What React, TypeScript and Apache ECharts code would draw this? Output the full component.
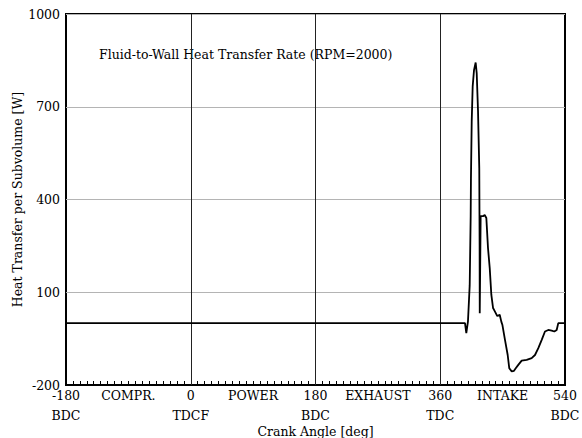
import React, { useEffect, useRef } from "react";
import * as echarts from "echarts";

// Crank angle [deg] and fluid-to-wall heat transfer per subvolume [W]
const crankAngle = [
  -180, 395.7, 397.6, 400.0, 402.5, 403.9, 404.3, 405.4, 406.8, 408.7, 411.1,
  412.6, 414.5, 416.3, 416.8, 417.0, 418.3, 421.7, 424.1, 426.5, 428.9, 431.4,
  433.7, 436.2, 438.6, 442.3, 445.8, 448.1, 449.6, 453.4, 457.3, 459.6, 463.1,
  466.4, 468.9, 472.6, 477.5, 484.7, 491.9, 496.7, 501.5, 506.4, 511.1, 515.9,
  520.8, 524.6, 528.0, 530.3, 540,
];
const heatRate = [
  0, 0, -32, 6, 123, 346, 469, 653, 766, 818, 843,
  809, 686, 501, 250, 32, 346, 346, 350, 340, 243, 178,
  92, 49, 39, 23, 27, 5, -5, -54, -103, -146, -156,
  -154, -146, -135, -121, -119, -113, -103, -81, -54, -27, -22,
  -24, -27, -22, 0, 0,
];

// Tick labels along the crank-angle axis (every 90 deg)
const angleTicks = [-180, -90, 0, 90, 180, 270, 360, 450, 540];
const angleTickLabels = [
  "-180\nBDC", "COMPR.", "0\nTDCF", "POWER", "180\nBDC",
  "EXHAUST", "360\nTDC", "INTAKE", "540\nBDC",
];
// Dead-centre reference lines
const deadCentres = [0, 180, 360];

const FONT = "DejaVu Serif";
const FS = 12.5;

export default function App() {
  const ref = useRef<HTMLDivElement>(null);

  useEffect(() => {
    document.body.style.margin = "0";
    const chart = echarts.init(ref.current!, undefined, { renderer: "svg" });
    const points = crankAngle.map((a, i) => [a, heatRate[i]]);

    chart.setOption({
      animation: false,
      backgroundColor: "#ffffff",
      textStyle: { fontFamily: FONT, color: "#000" },
      grid: {
        left: 66,
        right: 17,
        top: 14,
        bottom: 53,
        show: true,
        backgroundColor: "transparent",
        borderColor: "#000",
        borderWidth: 2,
        outerBoundsMode: "none",
      },
      graphic: [
        {
          type: "text",
          left: 99,
          top: 48,
          style: {
            text: "Fluid-to-Wall Heat Transfer Rate (RPM=2000)",
            font: `${FS}px "${FONT}"`,
            fill: "#000",
          },
        },
      ],
      xAxis: {
        type: "value",
        min: -180,
        max: 540,
        interval: 90,
        name: "Crank Angle [deg]",
        nameLocation: "middle",
        nameGap: 40,
        nameMoveOverlap: false,
        nameTextStyle: { fontFamily: FONT, fontSize: FS, color: "#000" },
        axisLine: { show: true, onZero: false, lineStyle: { color: "#000", width: 2 } },
        axisTick: { show: true, inside: true, length: 4, lineStyle: { color: "#000" } },
        minorTick: { show: true, splitNumber: 9, length: 4, lineStyle: { color: "#000" } },
        splitLine: { show: false },
        axisLabel: {
          fontFamily: FONT,
          fontSize: FS,
          color: "#000",
          lineHeight: 20,
          margin: 0,
          formatter: (v: number) => {
            const i = angleTicks.indexOf(v);
            return i >= 0 ? angleTickLabels[i] : "";
          },
        },
      },
      yAxis: {
        type: "value",
        min: -200,
        max: 1000,
        interval: 300,
        name: "Heat Transfer per Subvolume [W]",
        nameLocation: "middle",
        nameGap: 42,
        nameMoveOverlap: false,
        nameTextStyle: { fontFamily: FONT, fontSize: FS, color: "#000" },
        axisLine: { show: false, onZero: false },
        axisTick: { show: false },
        axisLabel: {
          fontFamily: FONT,
          fontSize: FS,
          color: "#000",
          margin: 6,
          formatter: (v: number) => String(v),
        },
        splitLine: { show: true, lineStyle: { color: "#b4b4b4", width: 1 } },
      },
      series: [
        {
          type: "line",
          data: points,
          showSymbol: false,
          lineStyle: { color: "#000", width: 1.8 },
          z: 5,
          markLine: {
            silent: true,
            symbol: "none",
            label: { show: false },
            lineStyle: { color: "#222", width: 1, type: "solid" },
            data: deadCentres.map((x) => ({ xAxis: x })),
          },
        },
      ],
    });

    return () => chart.dispose();
  }, []);

  return <div ref={ref} style={{ width: 582, height: 438 }} />;
}
